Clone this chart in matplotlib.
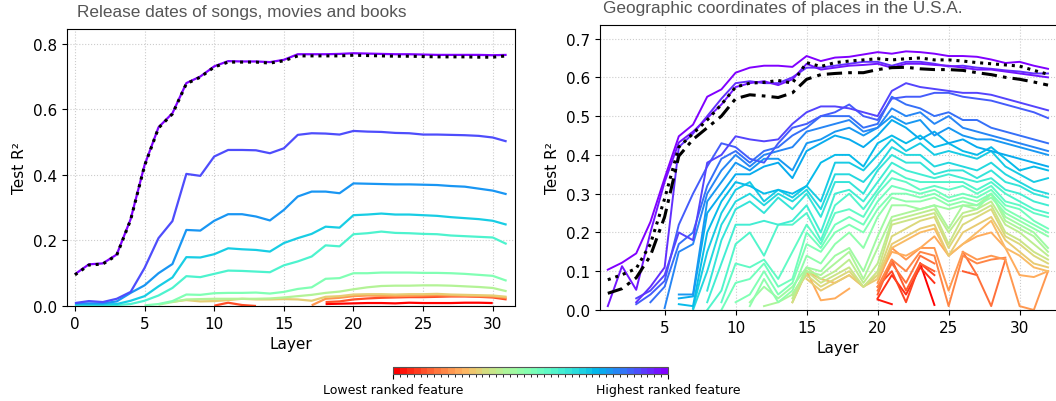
import numpy as np
import matplotlib
matplotlib.use("Agg")
import matplotlib.pyplot as plt
from matplotlib.colors import ListedColormap, BoundaryNorm
from matplotlib.cm import ScalarMappable

# ---------------- data: left panel (layers 0..31) ----------------
dates_layers = list(range(32))
dates_full = [0.095, 0.125, 0.128, 0.155, 0.263, 0.428, 0.543, 0.586, 0.678, 0.698, 0.729, 0.744,
              0.744, 0.744, 0.741, 0.748, 0.763, 0.763, 0.763, 0.763, 0.765, 0.764, 0.763, 0.762,
              0.762, 0.761, 0.760, 0.760, 0.760, 0.759, 0.759, 0.763]
# each entry: (first layer, values) ; ordered from highest ranked to lowest ranked feature
dates_series = [
    (0, [0.097, 0.127, 0.130, 0.157, 0.265, 0.430, 0.545, 0.588, 0.680, 0.700, 0.731, 0.747,
         0.746, 0.746, 0.744, 0.751, 0.768, 0.768, 0.768, 0.769, 0.771, 0.770, 0.769, 0.768,
         0.768, 0.767, 0.766, 0.766, 0.766, 0.766, 0.765, 0.766]),
    (0, [0.009, 0.015, 0.012, 0.022, 0.043, 0.116, 0.207, 0.259, 0.403, 0.397, 0.456, 0.476,
         0.476, 0.475, 0.466, 0.481, 0.522, 0.527, 0.526, 0.523, 0.534, 0.532, 0.531, 0.528,
         0.527, 0.523, 0.523, 0.522, 0.521, 0.519, 0.514, 0.502]),
    (0, [0.008, 0.008, 0.008, 0.014, 0.040, 0.063, 0.100, 0.128, 0.232, 0.230, 0.260, 0.280,
         0.280, 0.273, 0.261, 0.293, 0.334, 0.349, 0.349, 0.344, 0.374, 0.373, 0.372, 0.371,
         0.371, 0.370, 0.369, 0.366, 0.364, 0.358, 0.352, 0.341]),
    (0, [0.005, 0.005, 0.005, 0.006, 0.016, 0.030, 0.060, 0.087, 0.149, 0.148, 0.158, 0.176,
         0.173, 0.171, 0.166, 0.192, 0.207, 0.220, 0.242, 0.239, 0.277, 0.279, 0.282, 0.279,
         0.279, 0.277, 0.275, 0.271, 0.268, 0.265, 0.260, 0.248]),
    (0, [0.002, 0.002, 0.002, 0.003, 0.006, 0.016, 0.032, 0.055, 0.091, 0.088, 0.098, 0.108,
         0.107, 0.105, 0.103, 0.124, 0.136, 0.151, 0.185, 0.182, 0.219, 0.222, 0.227, 0.223,
         0.222, 0.220, 0.219, 0.215, 0.213, 0.211, 0.209, 0.189]),
    (5, [0.002, 0.006, 0.015, 0.035, 0.034, 0.039, 0.040, 0.040, 0.041, 0.038, 0.043, 0.052,
         0.057, 0.083, 0.085, 0.100, 0.100, 0.102, 0.102, 0.102, 0.101, 0.101, 0.100, 0.098,
         0.095, 0.092, 0.077]),
    (6, [0.004, 0.012, 0.020, 0.021, 0.022, 0.022, 0.022, 0.022, 0.023, 0.026, 0.030, 0.034,
         0.040, 0.044, 0.051, 0.057, 0.061, 0.062, 0.062, 0.063, 0.063, 0.062, 0.060, 0.058,
         0.055, 0.045]),
    (7, [0.013, 0.018, 0.014, 0.015, 0.018, 0.022, 0.020, 0.020, 0.021, 0.020, 0.016, 0.028,
         0.030, 0.035, 0.036, 0.036, 0.035, 0.036, 0.036, 0.037, 0.035, 0.034, 0.033, 0.032,
         0.028]),
    (17, [0.002, 0.022, 0.025, 0.030, 0.032, 0.031, 0.030, 0.031, 0.032, 0.033, 0.032, 0.031,
          0.030, 0.029, 0.025]),
    (10, [0.001, 0.010, 0.003, 0.000, None, None, None, None, 0.012, 0.014, 0.020, 0.023,
          0.025, 0.026, 0.027, 0.027, 0.028, 0.029, 0.029, 0.028, 0.026, 0.020]),
    (18, [0.006, 0.007, 0.008, 0.009, 0.009, 0.008, 0.010, 0.009, 0.009, 0.009, 0.010, 0.010,
          0.009]),
]

# ---------------- data: right panel (layers 1..32) ----------------
geo_layers = list(range(1, 33))
geo_full = [0.078, 0.091, 0.107, 0.170, 0.287, 0.420, 0.455, 0.490, 0.530, 0.575, 0.585, 0.587,
            0.592, 0.585, 0.638, 0.628, 0.638, 0.642, 0.645, 0.648, 0.645, 0.648, 0.650, 0.645,
            0.645, 0.642, 0.638, 0.635, 0.632, 0.629, 0.618, 0.608]
geo_baseline = [0.043, 0.055, 0.083, 0.140, 0.240, 0.397, 0.440, 0.470, 0.500, 0.545, 0.555, 0.552,
                0.548, 0.560, 0.595, 0.607, 0.610, 0.612, 0.612, 0.620, 0.625, 0.626, 0.622, 0.620,
                0.620, 0.618, 0.612, 0.607, 0.600, 0.595, 0.588, 0.580]
geo_series = [
    (1, [0.104, 0.122, 0.146, 0.227, 0.340, 0.448, 0.478, 0.550, 0.569, 0.612, 0.625, 0.630, 0.630,
         0.627, 0.655, 0.642, 0.651, 0.653, 0.659, 0.665, 0.661, 0.667, 0.665, 0.661, 0.655, 0.655,
         0.653, 0.646, 0.637, 0.640, 0.630, 0.622]),
    (1, [0.010, 0.113, 0.052, 0.200, 0.330, 0.432, 0.460, 0.495, 0.530, 0.575, 0.585, 0.590, 0.580,
         0.595, 0.635, 0.620, 0.625, 0.630, 0.632, 0.635, 0.625, 0.635, 0.635, 0.632, 0.630, 0.625,
         0.620, 0.620, 0.615, 0.610, 0.605, 0.600]),
    (3, [0.020, 0.060, 0.110, 0.420, 0.455, 0.500, 0.545, 0.585, 0.590, 0.585, 0.585, 0.600, 0.625,
         0.625, 0.630, 0.635, 0.640, 0.640, 0.630, 0.640, 0.640, 0.635, 0.628, 0.630, 0.625, 0.622,
         0.618, 0.615, 0.610, 0.610]),
    (3, [0.030, 0.050, 0.090, 0.200, 0.180, 0.380, 0.400, 0.448, 0.440, 0.435, 0.440, 0.480, 0.510,
         0.525, 0.525, 0.520, 0.510, 0.500, 0.565, 0.585, 0.575, 0.570, 0.565, 0.560, 0.560, 0.555,
         0.545, 0.535, 0.525, 0.515]),
    (3, [0.015, 0.040, 0.075, 0.220, 0.300, 0.370, 0.430, 0.420, 0.390, 0.380, 0.430, 0.470, 0.480,
         0.500, 0.510, 0.530, 0.500, 0.490, 0.545, 0.550, 0.550, 0.560, 0.560, 0.550, 0.545, 0.540,
         0.530, 0.520, 0.510, 0.495]),
    (4, [0.020, 0.060, 0.170, 0.200, 0.320, 0.390, 0.410, 0.380, 0.410, 0.420, 0.450, 0.470, 0.500,
         0.500, 0.500, 0.470, 0.480, 0.550, 0.530, 0.520, 0.500, 0.510, 0.490, 0.490, 0.470, 0.460,
         0.450, 0.440, 0.430]),
    (5, [0.005, 0.150, 0.170, 0.300, 0.360, 0.400, 0.370, 0.400, 0.410, 0.420, 0.460, 0.470, 0.480,
         0.490, 0.460, 0.470, 0.520, 0.500, 0.510, 0.480, 0.500, 0.470, 0.460, 0.450, 0.440, 0.430,
         0.420, 0.410]),
    (6, [0.040, 0.040, 0.280, 0.330, 0.380, 0.360, 0.390, 0.390, 0.360, 0.430, 0.440, 0.460, 0.470,
         0.450, 0.470, 0.500, 0.480, 0.490, 0.450, 0.470, 0.450, 0.440, 0.440, 0.430, 0.420, 0.410,
         0.400]),
    (6, [0.030, 0.035, 0.250, 0.300, 0.350, 0.350, 0.370, 0.380, 0.340, 0.410, 0.430, 0.450, 0.440,
         0.420, 0.450, 0.490, 0.470, 0.440, 0.460, 0.430, 0.440, 0.420, 0.410, 0.400, 0.390, 0.380,
         0.370]),
    (6, [0.015, 0.010, 0.200, 0.280, 0.330, 0.320, 0.300, 0.310, 0.300, 0.320, 0.380, 0.400, 0.400,
         0.370, 0.430, 0.450, 0.430, 0.450, 0.420, 0.430, 0.410, 0.400, 0.420, 0.390, 0.360, 0.370,
         0.360]),
    (7, [0.005, 0.150, 0.250, 0.310, 0.330, 0.280, 0.310, 0.290, 0.320, 0.280, 0.380, 0.380, 0.360,
         0.400, 0.440, 0.410, 0.430, 0.400, 0.410, 0.400, 0.390, 0.410, 0.370, 0.350, 0.330, 0.340]),
    (7, [0.000, 0.100, 0.220, 0.280, 0.300, 0.270, 0.300, 0.280, 0.310, 0.260, 0.350, 0.350, 0.330,
         0.370, 0.420, 0.400, 0.400, 0.370, 0.380, 0.370, 0.360, 0.380, 0.350, 0.330, 0.310, 0.300]),
    (8, [0.050, 0.180, 0.260, 0.280, 0.250, 0.290, 0.260, 0.300, 0.240, 0.330, 0.330, 0.300, 0.360,
         0.400, 0.380, 0.380, 0.350, 0.360, 0.360, 0.340, 0.360, 0.330, 0.320, 0.300, 0.290]),
    (8, [0.020, 0.120, 0.220, 0.220, 0.230, 0.220, 0.230, 0.270, 0.200, 0.300, 0.310, 0.280, 0.330,
         0.380, 0.360, 0.350, 0.340, 0.350, 0.340, 0.330, 0.340, 0.310, 0.300, 0.280, 0.270]),
    (8, [0.000, 0.050, 0.170, 0.200, 0.140, 0.220, 0.220, 0.250, 0.180, 0.270, 0.300, 0.260, 0.310,
         0.360, 0.340, 0.330, 0.330, 0.330, 0.330, 0.310, 0.330, 0.300, 0.280, 0.260, 0.250]),
    (9, [0.020, 0.120, 0.110, 0.130, 0.080, 0.150, 0.220, 0.170, 0.250, 0.260, 0.240, 0.300, 0.340,
         0.330, 0.310, 0.320, 0.310, 0.320, 0.300, 0.320, 0.280, 0.270, 0.250, 0.240]),
    (9, [0.000, 0.070, 0.080, 0.120, 0.060, 0.080, 0.200, 0.160, 0.220, 0.240, 0.220, 0.280, 0.320,
         0.310, 0.300, 0.310, 0.290, 0.300, 0.290, 0.310, 0.270, 0.260, 0.230, 0.210]),
    (10, [0.020, 0.040, 0.100, 0.040, 0.070, 0.170, 0.150, 0.200, 0.220, 0.200, 0.260, 0.300, 0.300,
          0.290, 0.300, 0.280, 0.290, 0.280, 0.300, 0.260, 0.240, 0.220, 0.200]),
    (11, [0.010, 0.080, 0.020, 0.050, 0.140, 0.120, 0.170, 0.200, 0.160, 0.240, 0.290, 0.280, 0.280,
          0.290, 0.270, 0.280, 0.270, 0.290, 0.250, 0.230, 0.210, 0.190]),
    (11, [0.020, 0.060, 0.030, 0.060, 0.110, 0.100, 0.140, 0.160, 0.100, 0.190, 0.270, 0.270, 0.260,
          0.270, 0.260, 0.270, 0.260, 0.300, 0.240, 0.220, 0.200, 0.160]),
    (12, [0.010, 0.020, 0.040, 0.100, 0.090, 0.120, 0.150, 0.080, 0.160, 0.240, 0.250, 0.260, 0.270,
          0.210, 0.270, 0.270, 0.300, 0.230, 0.210, 0.190, 0.150]),
    (14, [0.030, 0.110, 0.080, 0.100, 0.130, 0.070, 0.120, 0.230, 0.240, 0.250, 0.260, 0.200, 0.250,
          0.260, 0.280, 0.220, 0.200, 0.170, 0.140]),
    (14, [0.020, 0.100, 0.070, 0.090, 0.110, 0.060, 0.100, 0.220, 0.230, 0.240, 0.250, 0.170, 0.240,
          0.250, 0.270, 0.200, 0.180, 0.150, 0.130]),
    (14, [0.040, 0.090, 0.060, 0.080, 0.100, 0.060, 0.090, 0.190, 0.210, 0.230, 0.240, 0.160, 0.220,
          0.240, 0.260, 0.190, 0.170, 0.140, 0.120]),
    (15, [0.080, 0.050, 0.070, 0.090, 0.060, 0.080, 0.170, 0.190, 0.210, 0.220, 0.140, 0.200, 0.220,
          0.240, 0.180, 0.150, 0.120, 0.110]),
    (14, [0.040, 0.100, 0.080, 0.070, 0.090, 0.060, 0.090, 0.160, 0.180, 0.200, 0.210, 0.140, 0.170,
          0.200, 0.230, 0.160, 0.140, 0.110, 0.100]),
    (14, [0.020, 0.100, 0.025, 0.030, 0.055, None, 0.080, 0.150, 0.140, 0.160, 0.190, 0.140, 0.170,
          0.190, 0.200, 0.160, 0.090, 0.085, 0.100]),
    (20, [0.070, 0.160, 0.130, 0.160, 0.160, 0.050, 0.150, 0.130, 0.140, 0.130, 0.010, 0.000, 0.100]),
    (20, [0.060, 0.130, 0.100, 0.150, 0.140, 0.010, 0.140, 0.120, 0.130, 0.135]),
    (20, [0.050, 0.120, 0.070, 0.140, 0.120, None, 0.150, 0.090, 0.010, 0.130]),
    (20, [0.040, 0.130, 0.050, 0.120, 0.100, None, 0.100, 0.090]),
    (20, [0.060, 0.100, 0.020, 0.120, 0.090]),
    (20, [0.030, 0.090, 0.040, 0.110, 0.070]),
    (20, [0.027, 0.015]),
    (23, [0.120, 0.013]),
]


def pad(start, vals, first, n):
    out = [np.nan] * n
    for i, v in enumerate(vals):
        out[start - first + i] = np.nan if v is None else v
    return np.array(out, dtype=float)


cmap = plt.get_cmap("rainbow")

W, H = 1056, 402
fig = plt.figure(figsize=(W / 100, H / 100), dpi=100)

grid_kw = dict(color="#cccccc", linestyle=":", linewidth=0.8)
FS = 11

# ---------------- left panel ----------------
ax1 = fig.add_axes([67 / W, (H - 307) / H, (515 - 67) / W, (307 - 30) / H])
n1 = len(dates_series)
for r in range(n1 - 1, -1, -1):
    start, vals = dates_series[r]
    y = pad(start, vals, 0, len(dates_layers))
    ax1.plot(dates_layers, y, color=cmap(r / (n1 - 1)), lw=1.6, solid_capstyle="butt", zorder=2)
ax1.plot(dates_layers, dates_full, color="black", lw=2.2, linestyle=(0, (1, 1.6)), zorder=3)
ax1.set_xlim(-0.57, 31.6)
ax1.set_ylim(0, 0.845)
ax1.set_xticks([0, 5, 10, 15, 20, 25, 30])
ax1.set_yticks([0.0, 0.2, 0.4, 0.6, 0.8])
ax1.grid(True, **grid_kw)
ax1.set_axisbelow(True)
ax1.set_xlabel("Layer", fontsize=FS)
ax1.set_ylabel("Test R²", fontsize=FS)
ax1.tick_params(labelsize=FS)

# ---------------- right panel ----------------
px_per_layer = 14.2
right_px = 1075
ax2 = fig.add_axes([600 / W, (H - 311) / H, (right_px - 600) / W, (311 - 26) / H])
n2 = len(geo_series)
for r in range(n2 - 1, -1, -1):
    start, vals = geo_series[r]
    y = pad(start, vals, 1, len(geo_layers))
    ax2.plot(geo_layers, y, color=cmap(r / (n2 - 1)), lw=1.4, zorder=2)
ax2.plot(geo_layers, geo_baseline, color="black", lw=2.2, linestyle=(0, (5, 2, 1.2, 2)), zorder=3)
ax2.plot(geo_layers, geo_full, color="black", lw=2.2, linestyle=(0, (1, 1.6)), zorder=3)
x0 = 0.45
ax2.set_xlim(x0, x0 + (right_px - 600) / px_per_layer)
ax2.set_ylim(0, 0.735)
ax2.set_xticks([5, 10, 15, 20, 25, 30])
ax2.set_yticks([0.0, 0.1, 0.2, 0.3, 0.4, 0.5, 0.6, 0.7])
ax2.grid(True, **grid_kw)
ax2.set_axisbelow(True)
ax2.spines["right"].set_visible(False)
ax2.set_xlabel("Layer", fontsize=FS)
ax2.set_ylabel("Test R²", fontsize=FS)
ax2.tick_params(labelsize=FS)

# ---------------- titles ----------------
title_kw = dict(fontsize=12.4, color="#555555", family=["Liberation Sans", "DejaVu Sans"], va="center", ha="left")
fig.text(77 / W, 1 - 12 / H, "Release dates of songs, movies and books", **title_kw)
fig.text(603 / W, 1 - 8 / H, "Geographic coordinates of places in the U.S.A.", **title_kw)

# ---------------- colorbar ----------------
n_seg = 40
colors = cmap(np.linspace(1, 0, n_seg))
cb_cmap = ListedColormap(colors)
bounds = np.linspace(0, 1, n_seg + 1)
norm = BoundaryNorm(bounds, n_seg)
cax = fig.add_axes([393 / W, (H - 375) / H, 275 / W, 7 / H])
cb = fig.colorbar(ScalarMappable(norm=norm, cmap=cb_cmap), cax=cax, orientation="horizontal",
                  ticks=[0, 1])
cb.ax.set_xticklabels(["Lowest ranked feature", "Highest ranked feature"], fontsize=9)
cb.ax.set_xticks(bounds, minor=True)
cb.ax.tick_params(which="minor", length=2, width=0.6)
cb.ax.tick_params(which="major", length=3.5, width=0.8, pad=3)
cb.outline.set_edgecolor("#555555")
cb.outline.set_linewidth(0.8)

fig.savefig("out.png", dpi=100)
